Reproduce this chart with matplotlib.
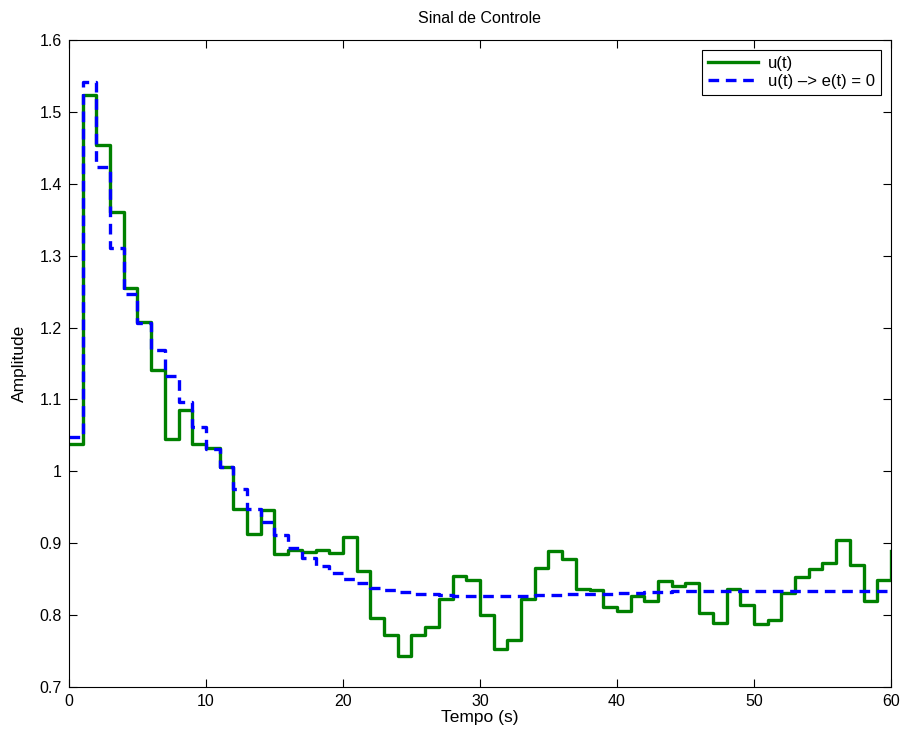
import numpy as np
import matplotlib
matplotlib.use('Agg')
import matplotlib.pyplot as plt
import matplotlib.ticker as ticker

plt.rcParams['font.family'] = ['Liberation Sans', 'DejaVu Sans']

# ── data (1 s sample steps, t = 0..60) ───────────────────────────────────────
TIME = list(range(0, 61))

U_CTRL = [
    1.038, 1.524, 1.454, 1.361, 1.255, 1.208, 1.141, 1.045, 1.085, 1.038,
    1.032, 1.006, 0.947, 0.913, 0.946, 0.885, 0.890, 0.888, 0.891, 0.887,
    0.908, 0.861, 0.796, 0.773, 0.743, 0.773, 0.783, 0.822, 0.855, 0.849,
    0.800, 0.753, 0.766, 0.823, 0.865, 0.889, 0.878, 0.837, 0.835, 0.811,
    0.806, 0.827, 0.819, 0.847, 0.841, 0.844, 0.803, 0.789, 0.836, 0.814,
    0.788, 0.793, 0.831, 0.853, 0.864, 0.873, 0.904, 0.870, 0.819, 0.849,
    0.889,
]

U_IDEAL = [
    1.048, 1.542, 1.423, 1.310, 1.247, 1.206, 1.169, 1.132, 1.097, 1.062,
    1.031, 1.006, 0.975, 0.948, 0.929, 0.911, 0.893, 0.879, 0.869, 0.859,
    0.850, 0.844, 0.838, 0.835, 0.832, 0.829, 0.829, 0.828, 0.827, 0.827,
    0.826, 0.826, 0.827, 0.827, 0.828, 0.828, 0.829, 0.829, 0.830, 0.830,
    0.831, 0.831, 0.832, 0.832, 0.833, 0.833, 0.833, 0.833, 0.833, 0.833,
    0.834, 0.834, 0.834, 0.834, 0.834, 0.834, 0.834, 0.834, 0.834, 0.834,
    0.834,
]

LABELS = ['u(t)', 'u(t) \u2013> e(t) = 0']


def main():
    fig = plt.figure(figsize=(9.03, 7.42), dpi=100)
    ax = fig.add_axes([69 / 903, 1 - 687 / 742, (891 - 69) / 903, (687 - 40) / 742])

    ax.step(TIME, U_CTRL, where='post', color='#008000', lw=2.4, label=LABELS[0])
    ax.step(TIME, U_IDEAL, where='post', color='#0000ff', lw=2.4,
            linestyle=(0, (3.2, 2.0)), label=LABELS[1])

    ax.set_xlim(0, 60)
    ax.set_ylim(0.7, 1.6)
    ax.xaxis.set_major_locator(ticker.MultipleLocator(10))
    ax.yaxis.set_major_locator(ticker.MultipleLocator(0.1))
    ax.yaxis.set_major_formatter(ticker.FuncFormatter(lambda v, p: f'{v:g}'))
    ax.tick_params(direction='in', top=True, right=True, labelsize=11.5,
                   length=6, pad=5)

    ax.set_xlabel('Tempo (s)', fontsize=12.5, labelpad=1)
    ax.set_ylabel('Amplitude', fontsize=12.5, labelpad=9)
    ax.set_title('Sinal de Controle', fontsize=11.5, pad=12)

    leg = ax.legend(loc='upper right', fontsize=12, fancybox=False,
                    framealpha=1, edgecolor='black', borderaxespad=0.6,
                    handlelength=3.0, handletextpad=0.6,
                    labelspacing=0.2, borderpad=0.35)
    leg.get_frame().set_linewidth(0.8)

    fig.savefig('out.png', dpi=100)
    plt.close(fig)


if __name__ == '__main__':
    main()
